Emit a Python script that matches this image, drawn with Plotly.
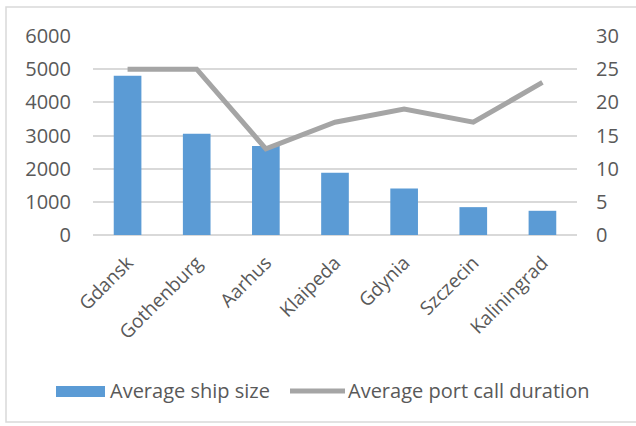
import plotly.graph_objects as go

ports = ["Gdansk", "Gothenburg", "Aarhus", "Klaipeda", "Gdynia", "Szczecin", "Kaliningrad"]
ship_size = [4800, 3050, 2680, 1880, 1400, 840, 730]
call_duration = [25, 25, 13, 17, 19, 17, 23]
left_ticks = [0, 1000, 2000, 3000, 4000, 5000, 6000]
right_ticks = [0, 5, 10, 15, 20, 25, 30]
series_names = ["Average ship size", "Average port call duration"]

BAR = "#5b9bd5"
LINE = "#a5a5a5"
TXT = "#595959"
GRID = "#d9d9d9"
FONT = "Open Sans"

W, H = 636, 426
L, R, T, B = 93, 59, 36, 191
pw, ph = W - L - R, H - T - B

def px(x):
    return (x - L) / pw

def py(y):
    return (H - B - y) / ph

fig = go.Figure()
fig.add_trace(go.Bar(x=ports, y=ship_size, name=series_names[0], marker_color=BAR,
                     marker_line_width=0, showlegend=False))
fig.add_trace(go.Scatter(x=ports, y=call_duration, name=series_names[1], yaxis="y2",
                         mode="lines", line=dict(color=LINE, width=5), showlegend=False))

fig.update_layout(
    width=W, height=H,
    margin=dict(l=L, r=R, t=T, b=B),
    paper_bgcolor="white", plot_bgcolor="white",
    font=dict(family=FONT, color=TXT, size=18),
    bargap=0.6,
    xaxis=dict(tickangle=-45, showgrid=False, showline=False, ticks="",
               ticklabelstandoff=12, tickfont=dict(size=19, color=TXT)),
    yaxis=dict(range=[0, 6000], tickvals=left_ticks, showgrid=True, gridcolor=GRID,
               gridwidth=1.5, zeroline=True, zerolinecolor=GRID, zerolinewidth=1.5,
               showline=False, ticks="", ticklabelstandoff=21,
               tickfont=dict(size=20, color=TXT)),
    yaxis2=dict(range=[0, 30], tickvals=right_ticks, overlaying="y", side="right",
                showgrid=False, zeroline=False, showline=False, ticks="",
                ticklabelstandoff=18, tickfont=dict(size=20, color=TXT)),
    showlegend=False,
)

shapes = [
    dict(type="rect", xref="paper", yref="paper", x0=px(6), x1=px(660), y0=py(422), y1=py(7),
         line=dict(color=GRID, width=1.5), fillcolor="rgba(0,0,0,0)", layer="below"),
    dict(type="rect", xref="paper", yref="paper", x0=px(56), x1=px(105), y0=py(397), y1=py(386),
         line=dict(width=0), fillcolor=BAR),
    dict(type="line", xref="paper", yref="paper", x0=px(290), x1=px(345), y0=py(391), y1=py(391),
         line=dict(color=LINE, width=5)),
]
fig.update_layout(shapes=shapes)
fig.add_annotation(xref="paper", yref="paper", x=px(108), y=py(391), text=series_names[0],
                   showarrow=False, xanchor="left", yanchor="middle",
                   font=dict(size=20, color=TXT, family=FONT))
fig.add_annotation(xref="paper", yref="paper", x=px(346), y=py(391), text=series_names[1],
                   showarrow=False, xanchor="left", yanchor="middle",
                   font=dict(size=20, color=TXT, family=FONT))

fig.write_html("out.html", config={"displayModeBar": False},
               post_script="document.body.style.margin='0';")
